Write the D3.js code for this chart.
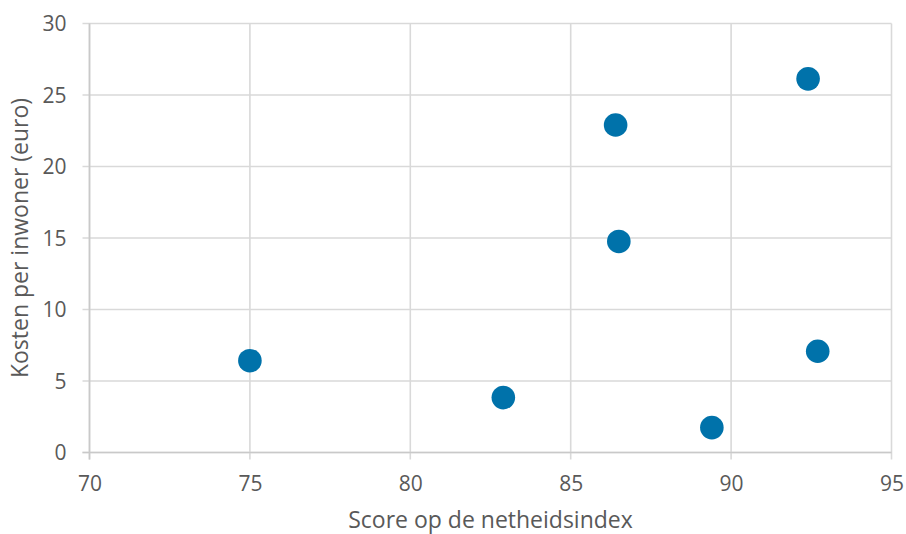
<!DOCTYPE html>
<html>
<head>
<meta charset="utf-8">
<script src="https://cdn.jsdelivr.net/npm/d3@7"></script>
<style>
  html, body { margin: 0; padding: 0; background: #fff; }
  svg { display: block; }
</style>
</head>
<body>
<svg id="chart" width="906" height="534"></svg>
<script>
// Data
const scores = [75.0, 82.9, 86.4, 86.5, 89.4, 92.4, 92.7];
const costs  = [6.42, 3.84, 22.9, 14.76, 1.74, 26.13, 7.08];
const xTicks = [70, 75, 80, 85, 90, 95];
const yTicks = [0, 5, 10, 15, 20, 25, 30];
const xTitle = "Score op de netheidsindex";
const yTitle = "Kosten per inwoner (euro)";

const W = 906, H = 534;
const margin = { left: 89.5, right: 14.5, top: 23.5, bottom: 81.5 };
const svg = d3.select("#chart");
const font = "'Open Sans', sans-serif";
const textColor = "#595959";
const gridColor = "#d9d9d9";

const x = d3.scaleLinear().domain([70, 95]).range([margin.left, W - margin.right]);
const y = d3.scaleLinear().domain([0, 30]).range([H - margin.bottom, margin.top]);

// Gridlines
const grid = svg.append("g");
grid.selectAll("line.v").data(xTicks).join("line")
  .attr("x1", d => x(d)).attr("x2", d => x(d))
  .attr("y1", y(30)).attr("y2", y(0) + 7)
  .attr("stroke", gridColor).attr("stroke-width", 1.6);
grid.selectAll("line.h").data(yTicks).join("line")
  .attr("x1", x(70) - 7).attr("x2", x(95))
  .attr("y1", d => y(d)).attr("y2", d => y(d))
  .attr("stroke", gridColor).attr("stroke-width", 1.6);

// Axis lines (slightly darker)
svg.append("line").attr("x1", x(70)).attr("x2", x(70)).attr("y1", y(30)).attr("y2", y(0) + 7)
  .attr("stroke", "#c9c9c9").attr("stroke-width", 1.6);
svg.append("line").attr("x1", x(70) - 7).attr("x2", x(95)).attr("y1", y(0)).attr("y2", y(0))
  .attr("stroke", "#c9c9c9").attr("stroke-width", 1.6);

// X axis labels
const xAxis = d3.axisBottom(x).tickValues(xTicks).tickSize(0).tickPadding(0);
const gx = svg.append("g").attr("transform", `translate(0,${y(0)})`).call(xAxis);
gx.select(".domain").remove();
gx.selectAll("text").attr("dy", null).attr("y", 38)
  .attr("fill", textColor).style("font-family", font).style("font-size", "21px");

// Y axis labels
const yAxis = d3.axisLeft(y).tickValues(yTicks).tickSize(0).tickPadding(0);
const gy = svg.append("g").attr("transform", `translate(${x(70) - 23},0)`).call(yAxis);
gy.select(".domain").remove();
gy.selectAll("text").attr("x", 0).attr("dy", "0.35em")
  .attr("fill", textColor).style("font-family", font).style("font-size", "21px");

// Axis titles
svg.append("text")
  .attr("x", (x(70) + x(95)) / 2).attr("y", 528)
  .attr("text-anchor", "middle").attr("fill", textColor)
  .style("font-family", font).style("font-size", "23px")
  .text(xTitle);
svg.append("text")
  .attr("transform", `translate(28,${(y(0) + y(30)) / 2}) rotate(-90)`)
  .attr("text-anchor", "middle").attr("fill", textColor)
  .style("font-family", font).style("font-size", "23px")
  .text(yTitle);

// Points
svg.append("g").selectAll("circle").data(scores.map((s, i) => [s, costs[i]])).join("circle")
  .attr("cx", d => x(d[0])).attr("cy", d => y(d[1])).attr("r", 11.8)
  .attr("fill", "#0072AA");
</script>
</body>
</html>
